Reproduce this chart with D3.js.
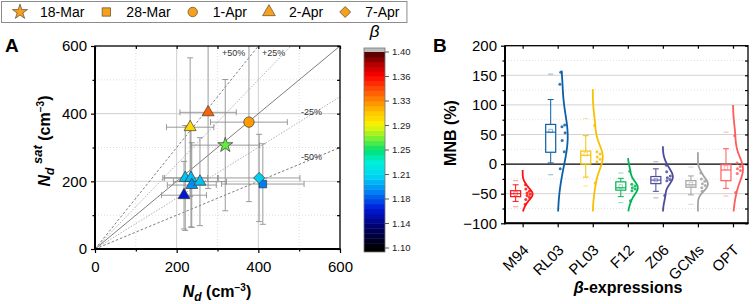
<!DOCTYPE html>
<html>
<head>
<meta charset="utf-8">
<script src="https://cdn.jsdelivr.net/npm/d3@7"></script>
<style>
  body { margin: 0; background: #fff; }
  svg { font-family: Arial, "Liberation Sans", sans-serif; }
</style>
</head>
<body>
<svg id="chart" width="754" height="304"></svg>
<script>
// ---------- panel A data
const dates = ["18-Mar", "28-Mar", "1-Apr", "2-Apr", "7-Apr"];
const pointDate = ["18-Mar", "28-Mar", "1-Apr", "2-Apr", "2-Apr", "2-Apr", "2-Apr", "2-Apr", "2-Apr", "2-Apr", "7-Apr"];
const ndObs = [319, 411, 377, 277, 233, 221, 235, 237, 257, 218, 402];
const ndSat = [307, 192, 375, 404, 360, 210, 210, 189, 199, 159, 210];
const ndObsErr = [84, 101, 94, 69, 58, 55, 65, 60, 65, 55, 100];
const ndSatErr = [194, 119, 235, 225, 205, 155, 145, 125, 130, 100, 129];
const beta = [1.265, 1.185, 1.32, 1.337, 1.30, 1.205, 1.203, 1.19, 1.205, 1.158, 1.208];
const refRatios = [1, 1.25, 0.75, 1.5, 0.5];
const betaTicks = ["1.10", "1.14", "1.18", "1.21", "1.25", "1.29", "1.33", "1.36", "1.40"];

// ---------- panel B data
const categories = ["M94", "RL03", "PL03", "F12", "Z06", "GCMs", "OPT"];
const q1 = [-55, 20, 0, -44, -33, -39, -28];
const median = [-50, 54, 15, -40, -27, -35, -10];
const q3 = [-45, 67, 22, -30, -21, -28, -1];
const meanVal = [-50, 56, 17, -38, -27, -34, -6];
const whiskerLo = [-63, 2, -22, -55, -46, -52, -41];
const whiskerHi = [-35, 109, 48, -24, -8, -20, 26];
const minVal = [-72, -18, -37, -65, -57, -68, -54];
const maxVal = [-28, 152, 77, -15, 4, -5, 54];
const m94Pts = [-35, -42, -46, -49, -51, -53, -56, -60, -68];
const rl03Pts = [155, 135, 66, 63, 53, 40, 21, -8];
const pl03Pts = [65, 21, 17, 12, 8, 4, -32];
const f12Pts = [-12, -34, -37, -40, -42, -45, -62];
const z06Pts = [-2, -13, -20, -23, -26, -28, -53];
const gcmPts = [-15, -25, -29, -33, -36, -40, -46];
const optPts = [48, 2, -4, -8, -11, -16, -48];
const curveTop = [-10, 158, 127, 10, 30, 20, 100];
const curveBottom = -80;
const catColors = ["#ff1010", "#0b5ea8", "#f7c000", "#00b455", "#4c4c9e", "#a3a3a3", "#ff5c5c"];

const allPts = [m94Pts, rl03Pts, pl03Pts, f12Pts, z06Pts, gcmPts, optPts];
const dateSymbols = [d3.symbolStar, d3.symbolSquare, d3.symbolCircle, d3.symbolTriangle, "diamond"];

const svg = d3.select("#chart");

// colour map for beta
const cmapStops = [0, 0.1, 0.2, 0.28, 0.37, 0.44, 0.5, 0.56, 0.63, 0.69, 0.75, 0.82, 0.88, 0.94, 1];
const cmapColors = ["#000000", "#000060", "#0018d8", "#0078f4", "#00d8f4", "#00f0d8", "#00e070",
  "#78f030", "#f8f400", "#ffc800", "#ff8a00", "#ff4000", "#ff0000", "#b00000", "#4a0000"];
const betaNorm = d3.scaleLinear().domain([1.10, 1.40]).range([0, 1]);
const cmap = d3.scaleLinear().domain(cmapStops).range(cmapColors).clamp(true);
const betaColor = b => cmap(betaNorm(b));

function symbolPath(type, size) {
  if (type === "diamond") return d3.symbol().type(d3.symbolSquare).size(size)();
  return d3.symbol().type(type).size(size)();
}
function symbolRotate(type) { return type === "diamond" ? " rotate(45)" : ""; }

// ---------- legend
const legend = svg.append("g");
const legendBox = legend.append("rect").attr("x", 1.5).attr("y", 1.5).attr("height", 21)
  .attr("fill", "#fff").attr("stroke", "#8c8c8c");
let lx = 20;
dates.forEach((d, i) => {
  legend.append("path")
    .attr("transform", `translate(${lx},12)${symbolRotate(dateSymbols[i])}`)
    .attr("d", symbolPath(dateSymbols[i], dateSymbols[i] === "diamond" ? 60 : 70))
    .attr("fill", "#f7a01c").attr("stroke", "#5a4a30").attr("stroke-width", 0.7);
  const t = legend.append("text").attr("x", lx + 20).attr("y", 17)
    .style("font-size", "14px").text(d);
  lx = lx + 20 + t.node().getComputedTextLength() + 22;
});
legendBox.attr("width", lx - 22 + 6);

// ---------- panel A
const xA = d3.scaleLinear().domain([0, 600]).range([95, 340]);
const yA = d3.scaleLinear().domain([0, 600]).range([249, 46]);
const gA = svg.append("g");

svg.append("defs").append("clipPath").attr("id", "clipA")
  .append("rect").attr("x", xA(0)).attr("y", yA(600))
  .attr("width", xA(600) - xA(0)).attr("height", yA(0) - yA(600));

// grid
d3.range(100, 600, 100).forEach(v => {
  const solid = v % 200 === 0;
  gA.append("line").attr("x1", xA(v)).attr("x2", xA(v)).attr("y1", yA(0)).attr("y2", yA(600))
    .attr("stroke", solid ? "#cfcfcf" : "#d6d6d6").attr("stroke-width", solid ? 1 : 0.8)
    .attr("stroke-dasharray", solid ? null : "1,2");
  gA.append("line").attr("y1", yA(v)).attr("y2", yA(v)).attr("x1", xA(0)).attr("x2", xA(600))
    .attr("stroke", solid ? "#cfcfcf" : "#d6d6d6").attr("stroke-width", solid ? 1 : 0.8)
    .attr("stroke-dasharray", solid ? null : "1,2");
});

// reference lines
refRatios.forEach(k => {
  const xe = Math.min(600, 600 / k);
  const style = k === 1 ? { c: "#6e6e6e", d: null, w: 0.9 }
    : (Math.abs(k - 1) === 0.25 ? { c: "#a8a8a8", d: "1.5,1.5", w: 0.9 } : { c: "#6e6e6e", d: "2.5,2", w: 0.9 });
  gA.append("line").attr("x1", xA(0)).attr("y1", yA(0)).attr("x2", xA(xe)).attr("y2", yA(k * xe))
    .attr("stroke", style.c).attr("stroke-width", style.w).attr("stroke-dasharray", style.d);
});
const refLabels = [["+50%", 222, 56], ["+25%", 262, 56], ["-25%", 301, 115], ["-50%", 301, 160]];
refLabels.forEach(l => {
  gA.append("text").attr("x", l[1]).attr("y", l[2]).style("font-size", "9px")
    .attr("fill", "#333").text(l[0]);
});

// error bars
const errG = gA.append("g").attr("clip-path", "url(#clipA)")
  .attr("stroke", "#8e8e8e").attr("stroke-width", 0.9);
ndObs.forEach((v, i) => {
  const cx = xA(v), cy = yA(ndSat[i]);
  const x0 = xA(v - ndObsErr[i]), x1 = xA(v + ndObsErr[i]);
  const y0 = yA(ndSat[i] - ndSatErr[i]), y1 = yA(ndSat[i] + ndSatErr[i]);
  errG.append("line").attr("x1", x0).attr("x2", x1).attr("y1", cy).attr("y2", cy);
  errG.append("line").attr("x1", x0).attr("x2", x0).attr("y1", cy - 3).attr("y2", cy + 3);
  errG.append("line").attr("x1", x1).attr("x2", x1).attr("y1", cy - 3).attr("y2", cy + 3);
  errG.append("line").attr("x1", cx).attr("x2", cx).attr("y1", y0).attr("y2", y1);
  errG.append("line").attr("x1", cx - 3).attr("x2", cx + 3).attr("y1", y0).attr("y2", y0);
  errG.append("line").attr("x1", cx - 3).attr("x2", cx + 3).attr("y1", y1).attr("y2", y1);
});

// points
ndObs.forEach((v, i) => {
  const type = dateSymbols[dates.indexOf(pointDate[i])];
  const size = type === d3.symbolCircle ? 85 : type === d3.symbolTriangle ? 62
    : type === d3.symbolStar ? 70 : type === "diamond" ? 62 : 58;
  gA.append("path")
    .attr("transform", `translate(${xA(v)},${yA(ndSat[i])})${symbolRotate(type)}`)
    .attr("d", symbolPath(type, size))
    .attr("fill", betaColor(beta[i])).attr("stroke", "#3a3a3a").attr("stroke-width", 0.7);
});

// axes A
function styleAxis(g) {
  g.select(".domain").remove();
  g.selectAll(".tick line").attr("stroke", "#000").attr("stroke-width", 1.2);
  g.selectAll(".tick text").style("font-size", "15px").attr("fill", "#000")
    .style("font-family", "Arial, 'Liberation Sans', sans-serif");
}
const majorA = [0, 200, 400, 600], minorA = [100, 300, 500];
gA.append("g").attr("transform", `translate(0,${yA(0)})`)
  .call(d3.axisBottom(xA).tickValues(majorA).tickSize(4).tickPadding(8)).call(styleAxis);
gA.append("g").attr("transform", `translate(0,${yA(0)})`)
  .call(d3.axisBottom(xA).tickValues(minorA).tickSize(2.5).tickFormat("")).call(styleAxis);
gA.append("g").attr("transform", `translate(${xA(0)},0)`)
  .call(d3.axisLeft(yA).tickValues(majorA).tickSize(4).tickPadding(4)).call(styleAxis);
gA.append("g").attr("transform", `translate(${xA(0)},0)`)
  .call(d3.axisLeft(yA).tickValues(minorA).tickSize(2.5).tickFormat("")).call(styleAxis);
gA.append("g").attr("transform", `translate(0,${yA(600)})`)
  .call(d3.axisTop(xA).tickValues(majorA.concat(minorA)).tickSize(-3).tickFormat("")).call(styleAxis);
gA.append("g").attr("transform", `translate(${xA(600)},0)`)
  .call(d3.axisRight(yA).tickValues(majorA.concat(minorA)).tickSize(-3).tickFormat("")).call(styleAxis);
gA.append("rect").attr("x", xA(0)).attr("y", yA(600)).attr("width", xA(600) - xA(0))
  .attr("height", yA(0) - yA(600)).attr("fill", "none").attr("stroke", "#000").attr("stroke-width", 1.3);
gA.append("line").attr("x1", xA(0) - 0.5).attr("x2", xA(600) + 0.5).attr("y1", yA(0)).attr("y2", yA(0))
  .attr("stroke", "#000").attr("stroke-width", 2);
gA.append("line").attr("x1", xA(0)).attr("x2", xA(0)).attr("y1", yA(0) + 1).attr("y2", yA(600))
  .attr("stroke", "#000").attr("stroke-width", 2);

// titles A
svg.append("text").attr("x", 5).attr("y", 52).style("font-size", "19px").style("font-weight", "bold").text("A");
svg.append("text").attr("x", 433).attr("y", 52).style("font-size", "19px").style("font-weight", "bold").text("B");

svg.append("text").attr("transform", "translate(50,141) rotate(-90)").attr("text-anchor", "middle")
  .style("font-weight", "bold").style("font-size", "16px")
  .call(t => {
    t.append("tspan").style("font-style", "italic").text("N");
    t.append("tspan").style("font-style", "italic").style("font-size", "12px").attr("dy", 4).text("d");
    t.append("tspan").style("font-style", "italic").style("font-size", "13px").attr("dy", -12).text(" sat");
    t.append("tspan").attr("dy", 8).text(" (cm");
    t.append("tspan").style("font-size", "10px").attr("dy", -6).text("−3");
    t.append("tspan").attr("dy", 6).text(")");
  });
svg.append("text").attr("x", 217).attr("y", 297).attr("text-anchor", "middle")
  .style("font-weight", "bold").style("font-size", "16px")
  .call(t => {
    t.append("tspan").style("font-style", "italic").text("N");
    t.append("tspan").style("font-style", "italic").style("font-size", "12px").attr("dy", 4).text("d");
    t.append("tspan").attr("dy", -4).text(" (cm");
    t.append("tspan").style("font-size", "10px").attr("dy", -6).text("−3");
    t.append("tspan").attr("dy", 6).text(")");
  });

// colour bar
const yC = d3.scaleLinear().domain([1.10, 1.40]).range([248, 52]);
const cbX = 364, cbW = 21;
const nBands = 40;
d3.range(nBands).forEach(i => {
  const b0 = 1.10 + i * 0.3 / nBands, b1 = 1.10 + (i + 1) * 0.3 / nBands;
  svg.append("rect").attr("x", cbX).attr("y", yC(b1)).attr("width", cbW).attr("height", yC(b0) - yC(b1) + 0.4)
    .attr("fill", betaColor((b0 + b1) / 2));
});
svg.append("rect").attr("x", cbX).attr("y", yC(1.40) - 4).attr("width", cbW).attr("height", 4).attr("fill", "#bdbdbd");
svg.append("rect").attr("x", cbX).attr("y", yC(1.10)).attr("width", cbW).attr("height", 4).attr("fill", "#000");
svg.append("rect").attr("x", cbX).attr("y", yC(1.40) - 4).attr("width", cbW).attr("height", yC(1.10) - yC(1.40) + 8)
  .attr("fill", "none").attr("stroke", "#777").attr("stroke-width", 0.8);
betaTicks.forEach((lab, i) => {
  const yy = yC(1.10) + (yC(1.40) - yC(1.10)) * i / (betaTicks.length - 1);
  svg.append("line").attr("x1", cbX + cbW).attr("x2", cbX + cbW + 4).attr("y1", yy).attr("y2", yy)
    .attr("stroke", "#333").attr("stroke-width", 0.8);
  svg.append("text").attr("x", cbX + cbW + 7).attr("y", yy).attr("dy", "0.35em")
    .style("font-size", "9.5px").attr("fill", "#222").text(lab);
});
svg.append("text").attr("x", cbX + cbW / 2).attr("y", 37).attr("text-anchor", "middle")
  .style("font-size", "17px").style("font-style", "italic").text("β");

// ---------- panel B
const xB = d3.scalePoint().domain(categories).range([505, 748]).padding(0.466).align(0.54);
const yB = d3.scaleLinear().domain([-100, 200]).range([223.3, 45.7]);
const gB = svg.append("g");

d3.range(-75, 200, 25).forEach(v => {
  if (v === 0) return;
  const solid = v % 50 === 0;
  gB.append("line").attr("x1", 505).attr("x2", 748).attr("y1", yB(v)).attr("y2", yB(v))
    .attr("stroke", solid ? "#d2d2d2" : "#dadada").attr("stroke-width", solid ? 1 : 0.8)
    .attr("stroke-dasharray", solid ? null : "1,2");
});
gB.append("line").attr("x1", 505).attr("x2", 748).attr("y1", yB(0)).attr("y2", yB(0))
  .attr("stroke", "#000").attr("stroke-width", 1.2);

function kde(pts, h) {
  return v => d3.mean(pts, p => Math.exp(-0.5 * ((v - p) / h) ** 2));
}

categories.forEach((c, i) => {
  const col = catColors[i];
  const tx = xB(c);
  const bx = tx - 7, bw = 10;
  const pts = allPts[i];
  const h = 1.06 * d3.deviation(pts) * Math.pow(pts.length, -0.2);
  const dens = kde(pts, h);
  const grid = d3.range(curveBottom, curveTop[i], 1).concat([curveTop[i]]);
  const peak = d3.max(grid, dens);
  const off = v => 10 * dens(v) / peak;
  const g = gB.append("g");

  // density curve
  g.append("path").datum(grid)
    .attr("d", d3.line().x(v => tx + off(v)).y(v => yB(v)).curve(d3.curveBasis))
    .attr("fill", "none").attr("stroke", col).attr("stroke-width", 1.8);

  // data points
  pts.forEach((p, j) => {
    g.append("circle").attr("cx", tx + off(p) * (j % 2 ? 0.45 : 0.75)).attr("cy", yB(p)).attr("r", 1.5)
      .attr("fill", col).attr("opacity", 0.85);
  });

  // whiskers
  g.append("line").attr("x1", bx).attr("x2", bx).attr("y1", yB(q3[i])).attr("y2", yB(whiskerHi[i]))
    .attr("stroke", col).attr("stroke-width", 1);
  g.append("line").attr("x1", bx).attr("x2", bx).attr("y1", yB(q1[i])).attr("y2", yB(whiskerLo[i]))
    .attr("stroke", col).attr("stroke-width", 1);
  [whiskerHi[i], whiskerLo[i]].forEach(w => {
    g.append("line").attr("x1", bx - 3).attr("x2", bx + 3).attr("y1", yB(w)).attr("y2", yB(w))
      .attr("stroke", col).attr("stroke-width", 1);
  });
  // box
  g.append("rect").attr("x", bx - bw / 2).attr("y", yB(q3[i])).attr("width", bw)
    .attr("height", yB(q1[i]) - yB(q3[i])).attr("fill", "#fff").attr("fill-opacity", 0.6)
    .attr("stroke", col).attr("stroke-width", 1.2);
  g.append("line").attr("x1", bx - bw / 2).attr("x2", bx + bw / 2).attr("y1", yB(median[i])).attr("y2", yB(median[i]))
    .attr("stroke", col).attr("stroke-width", 1.1);
  g.append("rect").attr("x", bx - 1.8).attr("y", yB(meanVal[i]) - 1.8).attr("width", 3.6).attr("height", 3.6)
    .attr("fill", "none").attr("stroke", col).attr("stroke-width", 0.6).attr("opacity", 0.7);
  // min / max markers
  [minVal[i], maxVal[i]].forEach(m => {
    g.append("line").attr("x1", bx - 2.5).attr("x2", bx + 2.5).attr("y1", yB(m)).attr("y2", yB(m))
      .attr("stroke", col).attr("stroke-width", 1).attr("opacity", 0.45);
  });
});

// axes B
const majorB = d3.range(-100, 201, 50), minorB = d3.range(-75, 200, 50);
gB.append("g").attr("transform", "translate(505,0)")
  .call(d3.axisLeft(yB).tickValues(majorB).tickSize(4).tickPadding(4)).call(styleAxis);
gB.append("g").attr("transform", "translate(505,0)")
  .call(d3.axisLeft(yB).tickValues(minorB).tickSize(2.5).tickFormat("")).call(styleAxis);
gB.append("g").attr("transform", "translate(748,0)")
  .call(d3.axisRight(yB).tickValues(majorB.concat(minorB)).tickSize(-3).tickFormat("")).call(styleAxis);
gB.append("g").attr("transform", `translate(0,${yB(-100)})`)
  .call(d3.axisBottom(xB).tickSize(4).tickFormat("")).call(styleAxis);
gB.append("g").attr("transform", `translate(0,${yB(200)})`)
  .call(d3.axisTop(xB).tickSize(-3).tickFormat("")).call(styleAxis);
gB.append("rect").attr("x", 505).attr("y", yB(200)).attr("width", 243).attr("height", yB(-100) - yB(200))
  .attr("fill", "none").attr("stroke", "#000").attr("stroke-width", 1.3);
gB.append("line").attr("x1", 504.5).attr("x2", 748.5).attr("y1", yB(-100)).attr("y2", yB(-100))
  .attr("stroke", "#000").attr("stroke-width", 2);
gB.append("line").attr("x1", 505).attr("x2", 505).attr("y1", yB(-100) + 1).attr("y2", yB(200))
  .attr("stroke", "#000").attr("stroke-width", 2);

categories.forEach(c => {
  gB.append("text").attr("transform", `translate(${xB(c) + 7},251) rotate(-45)`)
    .attr("text-anchor", "end").style("font-size", "15px").text(c);
});

svg.append("text").attr("transform", "translate(456,133) rotate(-90)").attr("text-anchor", "middle")
  .style("font-weight", "bold").style("font-size", "16px").text("MNB (%)");
svg.append("text").attr("x", 628).attr("y", 293).attr("text-anchor", "middle")
  .style("font-weight", "bold").style("font-size", "16px")
  .call(t => {
    t.append("tspan").style("font-style", "italic").text("β");
    t.append("tspan").text("-expressions");
  });
</script>
</body>
</html>
